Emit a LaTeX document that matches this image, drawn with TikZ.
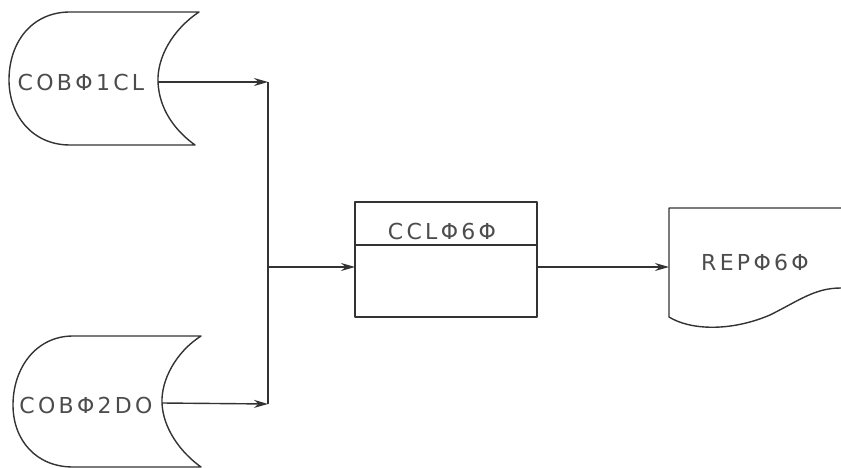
\documentclass[tikz,border=0pt]{standalone}
\usepackage{fontspec}
\setmainfont{DejaVu Sans}
\usetikzlibrary{arrows.meta}
\tikzset{
  ink/.style={draw=black!80, line width=1.4pt, line join=round},
  flow/.style={ink, -{Stealth[length=14pt,width=8pt]}},
  lbl/.style={inner sep=0pt, text=black!70, font=\fontsize{22}{22}\selectfont\addfontfeatures{LetterSpace=15}}
}
\begin{document}
\begin{tikzpicture}[x=1pt,y=-1pt]
\useasboundingbox (0,0) rectangle (841,468);
% stored data 1
\draw[ink] (70,12) -- (199,12) .. controls (172,30) and (157,58) .. (158,82)
  .. controls (159,108) and (174,130) .. (195,145) -- (70,145)
  .. controls (32,145) and (9,115) .. (9,80) .. controls (9,42) and (32,12) .. (70,12);
\node[lbl] (c1) at (81,82) {COBΦ1CL};
\coordinate (d1) at (158,82);
% stored data 2
\draw[ink] (73,336) -- (201,336) .. controls (176,352) and (161,380) .. (162,403)
  .. controls (163,428) and (180,452) .. (201,467) -- (73,467)
  .. controls (36,467) and (13,440) .. (13,405) .. controls (13,368) and (36,336) .. (73,336);
\node[lbl] (c2) at (86,405) {COBΦ2DO};
\coordinate (d2) at (162,403);
% junction
\coordinate (j1) at (268,82);
\coordinate (j2) at (268,404);
\coordinate (jm) at (268,267);
% process box
\draw[ink] (355,202) rectangle (537,317);
\draw[ink] (355,245) -- (537,245);
\node[lbl] (p) at (442,231) {CCLΦ6Φ};
\coordinate (pin) at (355,267);
\coordinate (pout) at (537,267);
% document
\draw[ink] (841,208) -- (669,208) -- (669,317)
  .. controls (690,330) and (730,332) .. (770,315)
  .. controls (800,300) and (815,288) .. (841,288);
\node[lbl] (r) at (755,262) {REPΦ6Φ};
\coordinate (rin) at (669,267);
% connectors
\draw[flow] (d1) -- (j1);
\draw[flow] (d2) -- (j2);
\draw[ink] (j1) -- (j2);
\draw[flow] (jm) -- (pin);
\draw[flow] (pout) -- (rin);
\end{tikzpicture}
\end{document}
